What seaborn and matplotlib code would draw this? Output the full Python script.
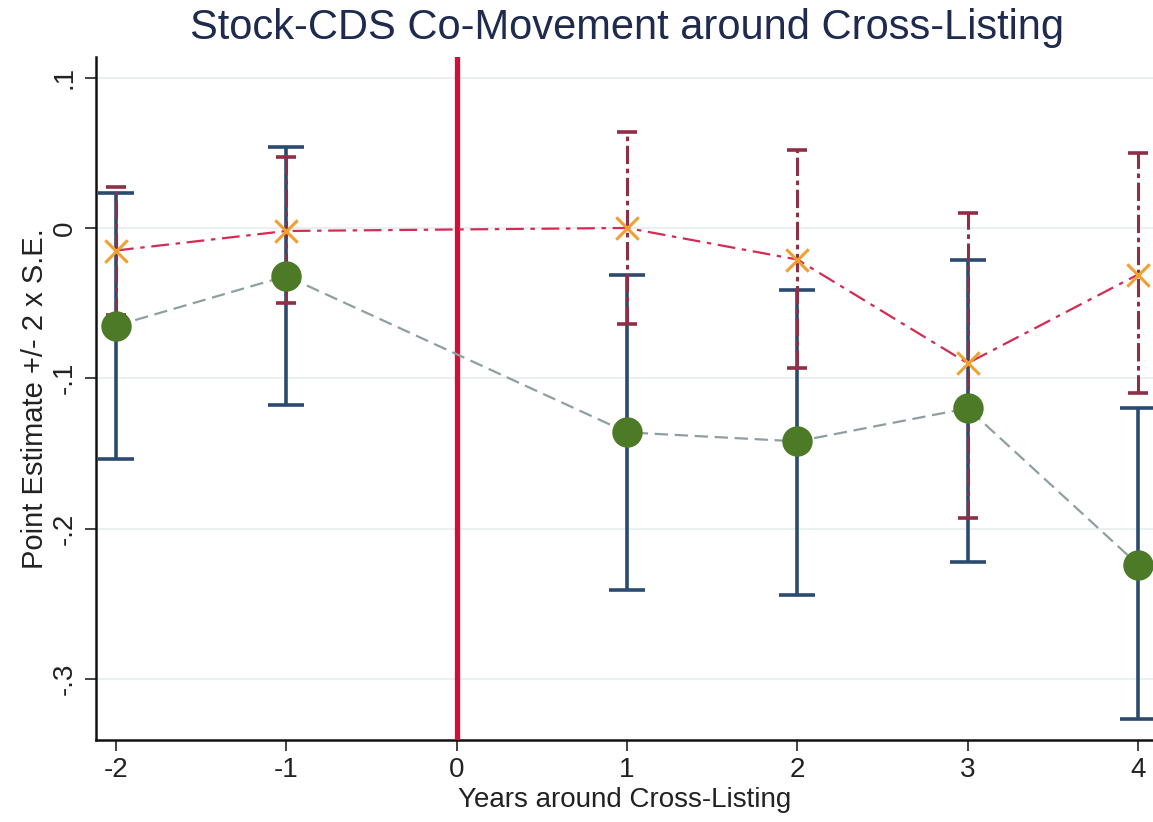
import numpy as np
import pandas as pd
import matplotlib
matplotlib.use("Agg")
import matplotlib.pyplot as plt
import seaborn as sns

# Event-time years relative to cross-listing
years = [-2, -1, 1, 2, 3, 4]

# Series A (green circles, navy bars)
est_a = [-0.065, -0.032, -0.136, -0.142, -0.120, -0.224]
lo_a = [-0.154, -0.118, -0.241, -0.244, -0.222, -0.327]
hi_a = [0.023, 0.054, -0.031, -0.041, -0.021, -0.120]

# Series B (orange crosses, maroon dash-dot bars)
est_b = [-0.015, -0.002, 0.000, -0.021, -0.090, -0.031]
lo_b = [-0.058, -0.050, -0.064, -0.093, -0.193, -0.110]
hi_b = [0.027, 0.047, 0.064, 0.052, 0.010, 0.050]

yticks = [0.1, 0.0, -0.1, -0.2, -0.3]
ytick_labels = [".1", "0", "-.1", "-.2", "-.3"]
xticks = [-2, -1, 0, 1, 2, 3, 4]

df = pd.DataFrame({
    "year": years + years,
    "est": est_a + est_b,
    "lo": lo_a + lo_b,
    "hi": hi_a + hi_b,
    "series": ["A"] * len(years) + ["B"] * len(years),
})

sns.set_theme(style="white")
plt.rcParams["font.family"] = ["Liberation Sans", "DejaVu Sans"]

fig = plt.figure(figsize=(11.53, 8.22), dpi=100)
ax = fig.add_axes([0.0833, 0.0998, 0.9167, 0.8309])

navy = "#2b4a6f"
maroon = "#8e2f45"
green = "#4d7a26"
orange = "#f0a030"
crimson = "#d0103a"

# horizontal grid at y ticks
for yv in yticks:
    ax.axhline(yv, color="#e6ecee", lw=1.2, zorder=0)

a = df[df.series == "A"]
b = df[df.series == "B"]

# confidence bars
ax.errorbar(a.year, a.est, yerr=[a.est - a.lo, a.hi - a.est], fmt="none",
            ecolor=navy, elinewidth=2.6, capsize=13, capthick=2.6, zorder=2)
eb = ax.errorbar(b.year, b.est, yerr=[b.est - b.lo, b.hi - b.est], fmt="none",
                 ecolor=maroon, elinewidth=2.2, capsize=7, capthick=2.6, zorder=3)
for coll in eb[2]:
    coll.set_linestyle((0, (6, 1.5, 1.5, 1.5)))

# reference line at the cross-listing year
ax.axvline(0, color=crimson, lw=3.8, zorder=4)

# connecting lines
sns.lineplot(data=a, x="year", y="est", ax=ax, color="#8f9f9f", lw=1.6,
             linestyle=(0, (6, 3)), zorder=5, legend=False)
sns.lineplot(data=b, x="year", y="est", ax=ax, color="#d42a55", lw=1.6,
             linestyle=(0, (8, 3, 2, 3)), zorder=5, legend=False)

# point estimates
sns.scatterplot(data=a, x="year", y="est", ax=ax, s=480, color=green,
                edgecolor=green, linewidth=0, zorder=6, legend=False)
sns.scatterplot(data=b, x="year", y="est", ax=ax, s=260, marker="x",
                color=orange, linewidth=2.2, zorder=7, legend=False)

ax.set_xlim(-2.117, 4.088)
ax.set_ylim(-0.3407, 0.1138)
ax.set_xticks(xticks)
ax.set_xticklabels([str(x) for x in xticks], fontsize=20)
ax.set_yticks(yticks)
ax.set_yticklabels(ytick_labels, fontsize=20, rotation=90, va="center")

ax.tick_params(axis="both", direction="out", length=8, width=1.2, color="#222222",
               bottom=True, left=True, labelcolor="#222222")
ax.tick_params(axis="x", pad=4)
ax.tick_params(axis="y", pad=5)

for side in ["top", "right"]:
    ax.spines[side].set_visible(False)
for side in ["left", "bottom"]:
    ax.spines[side].set_color("#111111")
    ax.spines[side].set_linewidth(1.8)

ax.set_xlabel("Years around Cross-Listing", fontsize=20, color="#222222", labelpad=3)
ax.set_ylabel("Point Estimate +/- 2 x S.E.", fontsize=21, color="#222222", labelpad=2)
fig.text(0.544, 0.966, "Stock-CDS Co-Movement around Cross-Listing",
         ha="center", va="center", fontsize=30, color="#1e2b4f")

fig.savefig("out.png", dpi=100)
